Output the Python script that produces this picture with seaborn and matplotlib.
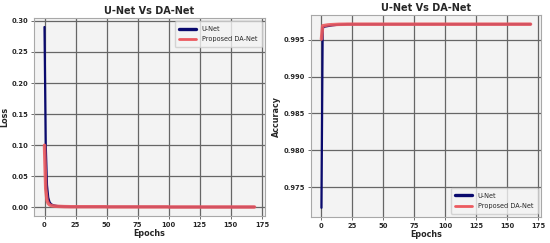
import numpy as np
import pandas as pd
import matplotlib
matplotlib.use("Agg")
import matplotlib.pyplot as plt
import seaborn as sns

# values (170 epochs, 0..169)
epochs = list(range(170))

unet_loss = ([0.290, 0.100, 0.036, 0.016, 0.009, 0.0060, 0.0045, 0.0037, 0.0031, 0.0027,
              0.0024, 0.0022, 0.0020, 0.0019, 0.0018, 0.0017, 0.0016, 0.0015, 0.0014, 0.0013]
             + [0.0012] * 30 + [0.0010] * 50 + [0.0008] * 70)
danet_loss = ([0.100, 0.030, 0.012, 0.0065, 0.0045, 0.0035, 0.0029, 0.0025, 0.0022, 0.0020,
               0.0019, 0.0018, 0.0017, 0.0016, 0.0015, 0.0015, 0.0014, 0.0014, 0.0013, 0.0013]
              + [0.0012] * 30 + [0.0010] * 50 + [0.0008] * 70)

unet_acc = ([0.9722, 0.9966, 0.99675, 0.99680, 0.99683, 0.99686, 0.99689, 0.99692, 0.99695, 0.99697,
             0.99699, 0.99701, 0.99703, 0.99704, 0.99705, 0.99706, 0.99707, 0.99708, 0.99709, 0.99710]
            + [0.99711] * 30 + [0.99712] * 120)
danet_acc = ([0.9951, 0.99690, 0.99693, 0.99696, 0.99699, 0.99701, 0.99703, 0.99704, 0.99705, 0.99706,
              0.99707, 0.99708, 0.99709, 0.99709, 0.99710, 0.99710, 0.99711, 0.99711, 0.99711, 0.99711]
             + [0.99712] * 150)

series_names = ["U-Net", "Proposed DA-Net"]
colors = {"U-Net": "#0a0a6e", "Proposed DA-Net": "#ec5a5f"}

loss_df = pd.DataFrame({"Epochs": epochs * 2,
                        "value": unet_loss + danet_loss,
                        "model": [series_names[0]] * 170 + [series_names[1]] * 170})
acc_df = pd.DataFrame({"Epochs": epochs * 2,
                       "value": unet_acc + danet_acc,
                       "model": [series_names[0]] * 170 + [series_names[1]] * 170})

sns.set_style("whitegrid", {"axes.facecolor": "#f3f3f3",
                            "grid.color": "#666666",
                            "axes.edgecolor": "#a8a8a8",
                            "xtick.bottom": True, "ytick.left": True})
plt.rcParams["font.family"] = ["DejaVu Sans"]

fig = plt.figure(figsize=(5.5, 2.43), dpi=100)
ax1 = fig.add_axes([34 / 550, 27 / 243, 231 / 550, 198 / 243])
ax2 = fig.add_axes([311 / 550, 26 / 243, 230 / 550, 202 / 243])

for ax, df, ylab, loc in [(ax1, loss_df, "Loss", "upper right"),
                          (ax2, acc_df, "Accuracy", "lower right")]:
    sns.lineplot(data=df, x="Epochs", y="value", hue="model", hue_order=series_names,
                 palette=colors, size="model", sizes={"U-Net": 1.6, "Proposed DA-Net": 2.5},
                 ax=ax)
    ax.lines[1].set_alpha(0.9)
    ax.set_title("U-Net Vs DA-Net", fontsize=7, fontweight="bold", pad=3)
    ax.set_xlabel("Epochs", fontsize=5.8, fontweight="bold", labelpad=1)
    ax.set_ylabel(ylab, fontsize=5.8, fontweight="bold", labelpad=2)
    ax.set_xticks([0, 25, 50, 75, 100, 125, 150, 175])
    ax.tick_params(labelsize=4.9, length=2.5, width=0.6, pad=1.5, color="#555555")
    for t in ax.get_xticklabels() + ax.get_yticklabels():
        t.set_fontweight("bold")
    ax.grid(True, color="#666666", lw=0.9)
    h, l = ax.get_legend_handles_labels()
    leg = ax.legend(h, l, loc=loc, fontsize=4.7, frameon=True,
                    handlelength=2.6, borderpad=0.7, labelspacing=0.7)
    leg.get_frame().set_edgecolor("#cccccc")
    for line, lw in zip(leg.get_lines(), [2.4, 2.0]):
        line.set_linewidth(lw)

ax2.yaxis.set_major_formatter(matplotlib.ticker.FormatStrFormatter("%.3f"))

fig.savefig("out.png", dpi=100)
